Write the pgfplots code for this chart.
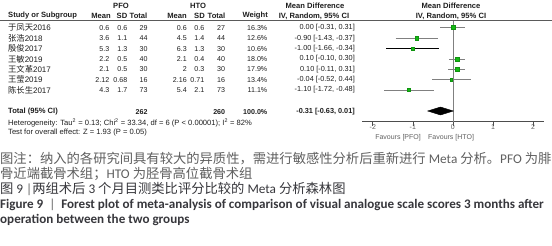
\documentclass[border=0pt]{standalone}
\usepackage{fontspec}
\setmainfont{Liberation Sans}
\newfontfamily\cjk{Noto Sans CJK SC}
\newfontfamily\cali{Carlito}
\usepackage{pgfplots}
\pgfplotsset{compat=1.18}
\definecolor{sqgreen}{RGB}{20,185,20}
\definecolor{txt}{RGB}{30,30,30}
\definecolor{capgray}{RGB}{95,95,95}
\definecolor{capdark}{RGB}{55,55,60}
\definecolor{ln}{RGB}{128,128,128}
\newcommand\tf{\fontsize{7.6}{8.5}\selectfont}
\newcommand\nf{\fontsize{7.1}{8}\selectfont}
\newcommand\ff{\fontsize{7}{8}\selectfont}
\newcommand\cn[1]{{\cjk\fontsize{8.3}{9}\selectfont #1}}
\begin{document}
\begin{tikzpicture}[x=1pt,y=1pt]
\path[use as bounding box] (0,0) rectangle (552,-246);
% ---------- table header ----------
\begin{scope}[every node/.style={inner sep=0,text=txt,font=\tf\bfseries}]
\node at (121,-6) {PFO};
\node at (198,-6) {HTO};
\node at (315,-6) {Mean Difference};
\node at (451,-6) {Mean Difference};
\node[anchor=west] at (8,-16) {Study or Subgroup};
\node[anchor=east] at (111,-16) {Mean};
\node[anchor=east] at (127.5,-16) {SD};
\node[anchor=east] at (147.5,-16) {Total};
\node[anchor=east] at (187,-16) {Mean};
\node[anchor=east] at (205,-16) {SD};
\node[anchor=east] at (225.5,-16) {Total};
\node[anchor=east] at (268,-16) {Weight};
\node at (314,-16) {IV, Random, 95\% CI};
\node at (451,-16) {IV, Random, 95\% CI};
\end{scope}
\draw[line width=0.8pt,ln!70!black] (0,-20.7) -- (552,-20.7);
% ---------- table rows ----------
\begin{scope}[every node/.style={inner sep=0,text=txt,font=\nf}]
\foreach \y/\nm/\ma/\sa/\na/\mb/\sb/\nb/\w/\ci in {
 27.7/{\cn{于凤天}2016}/0.6/0.6/29/0.6/0.6/27/16.3/{0.00 [-0.31, 0.31]},
 38.3/{\cn{张浩}2018}/3.6/1.1/44/4.5/1.4/44/12.6/{-0.90 [-1.43, -0.37]},
 48.8/{\cn{殷俊}2017}/5.3/1.3/30/6.3/1.3/30/10.6/{-1.00 [-1.66, -0.34]},
 59.1/{\cn{王敏}2019}/2.2/0.5/40/2.1/0.4/40/18.0/{0.10 [-0.10, 0.30]},
 69.3/{\cn{王文革}2017}/2.1/0.5/30/2/0.3/30/17.9/{0.10 [-0.11, 0.31]},
 79.6/{\cn{王莹}2019}/2.12/0.68/16/2.16/0.71/16/13.4/{-0.04 [-0.52, 0.44]},
 90.0/{\cn{陈长生}2017}/4.3/1.7/73/5.4/2.1/73/11.1/{-1.10 [-1.72, -0.48]}}{
  \node[anchor=west,font=\fontsize{8}{9}\selectfont] at (8,-\y) {\nm};
  \node[anchor=east] at (109.5,-\y) {\ma};
  \node[anchor=east] at (127.5,-\y) {\sa};
  \node[anchor=east] at (147.7,-\y) {\na};
  \node[anchor=east] at (187,-\y) {\mb};
  \node[anchor=east] at (204.5,-\y) {\sb};
  \node[anchor=east] at (225.3,-\y) {\nb};
  \node[anchor=east] at (267.5,-\y) {\w\%};
  \node[anchor=east,font=\fontsize{7.3}{8}\selectfont] at (355,-\y) {\ci};
}
\node[anchor=west,font=\tf\bfseries] at (8,-112) {Total (95\% CI)};
\node[anchor=east,font=\nf\bfseries] at (147.7,-112) {262};
\node[anchor=east,font=\nf\bfseries] at (225.3,-112) {260};
\node[anchor=east,font=\nf\bfseries] at (267.5,-112) {100.0\%};
\node[anchor=east,font=\fontsize{7.3}{8}\selectfont\bfseries] at (355,-112) {-0.31 [-0.63, 0.01]};
\node[anchor=west,font=\tf] at (8,-122.7) {Heterogeneity: Tau\textsuperscript{2} = 0.13; Chi\textsuperscript{2} = 33.34, df = 6 (P < 0.00001); I\textsuperscript{2} = 82\%};
\node[anchor=west,font=\tf] at (8,-132.3) {Test for overall effect: Z = 1.93 (P = 0.05)};
\node[anchor=east,text=capgray,font=\ff] at (421,-137.5) {Favours [PFO]};
\node[anchor=west,text=capgray,font=\ff] at (428,-137.5) {Favours [HTO]};
\end{scope}
% ---------- forest plot ----------
\begin{axis}[at={(362pt,-20.7pt)}, anchor=north west, scale only axis,
  width=181.8pt, height=101pt, xmin=-2.27, xmax=2.27, ymin=-121.7, ymax=-20.7,
  axis x line*=bottom, axis y line=none, axis line style={-,ln!60!black,line width=0.7pt},
  xtick={-2,-1,0,1,2}, tick align=outside, major tick length=4pt,
  tick style={ln!60!black,line width=0.7pt},
  xticklabel style={font=\ff,text=capgray,yshift=4.5pt},
  /pgf/number format/assume math mode=true,
  clip=false]
\addplot[ln,line width=0.8pt] coordinates {(0,-20.7) (0,-121.7)};
\addplot[ln,line width=0.8pt] coordinates {(-0.31,-27.7) (0.31,-27.7)};
\addplot[ln,line width=0.8pt] coordinates {(-1.43,-38.3) (-0.37,-38.3)};
\addplot[black,line width=0.9pt] coordinates {(-1.66,-48.8) (-0.34,-48.8)};
\addplot[ln,line width=0.8pt] coordinates {(-0.10,-59.1) (0.30,-59.1)};
\addplot[ln,line width=0.8pt] coordinates {(-0.11,-69.3) (0.31,-69.3)};
\addplot[ln,line width=0.8pt] coordinates {(-0.52,-79.6) (0.44,-79.6)};
\addplot[ln,line width=0.8pt] coordinates {(-1.72,-90.0) (-0.48,-90.0)};
\addplot[only marks,mark=square*,mark size=2.0pt,draw=sqgreen!80!black,fill=sqgreen] coordinates {(0.00,-27.7)};
\addplot[only marks,mark=square*,mark size=1.6pt,draw=sqgreen!80!black,fill=sqgreen] coordinates {(-0.90,-38.3)};
\addplot[only marks,mark=square*,mark size=1.45pt,draw=sqgreen!80!black,fill=sqgreen] coordinates {(-1.00,-48.8)};
\addplot[only marks,mark=square*,mark size=2.1pt,draw=sqgreen!80!black,fill=sqgreen] coordinates {(0.10,-59.1)};
\addplot[only marks,mark=square*,mark size=2.1pt,draw=sqgreen!80!black,fill=sqgreen] coordinates {(0.10,-69.3)};
\addplot[only marks,mark=square*,mark size=1.3pt,draw=sqgreen!80!black,fill=sqgreen] coordinates {(-0.04,-79.6)};
\addplot[only marks,mark=square*,mark size=1.5pt,draw=sqgreen!80!black,fill=sqgreen] coordinates {(-1.10,-90.0)};
\addplot[fill=black,draw=black] coordinates {(-0.63,-111) (-0.31,-107) (0.01,-111) (-0.31,-115)} -- cycle;
\end{axis}
% ---------- captions ----------
\node[anchor=west,inner sep=0,text=capgray] at (0,-159) {\fontsize{13.3}{15}\selectfont\cjk 图注：纳入的各研究间具有较大的异质性，需进行敏感性分析后重新进行 {\cali Meta} 分析。{\cali PFO} 为腓};
\node[anchor=west,inner sep=0,text=capgray] at (0,-173.7) {\fontsize{13.3}{15}\selectfont\cjk 骨近端截骨术组；{\cali HTO} 为胫骨高位截骨术组};
\node[anchor=west,inner sep=0,text=capdark] at (0,-189) {\fontsize{13.3}{15}\selectfont\cjk 图 {\cali 9}\ {\color{capgray}\cali |}两组术后 {\cali 3} 个月目测类比评分比较的 {\cali Meta} 分析森林图};
\node[anchor=west,inner sep=0,text=capdark] at (0,-205) {\fontsize{13.1}{15}\selectfont\cali\bfseries Figure 9 \ {\mdseries\color{capgray}|}\ \ Forest plot of meta-analysis of comparison of visual analogue scale scores 3 months after};
\node[anchor=west,inner sep=0,text=capdark] at (0,-220) {\fontsize{13.1}{15}\selectfont\cali\bfseries operation between the two groups};
\end{tikzpicture}
\end{document}
